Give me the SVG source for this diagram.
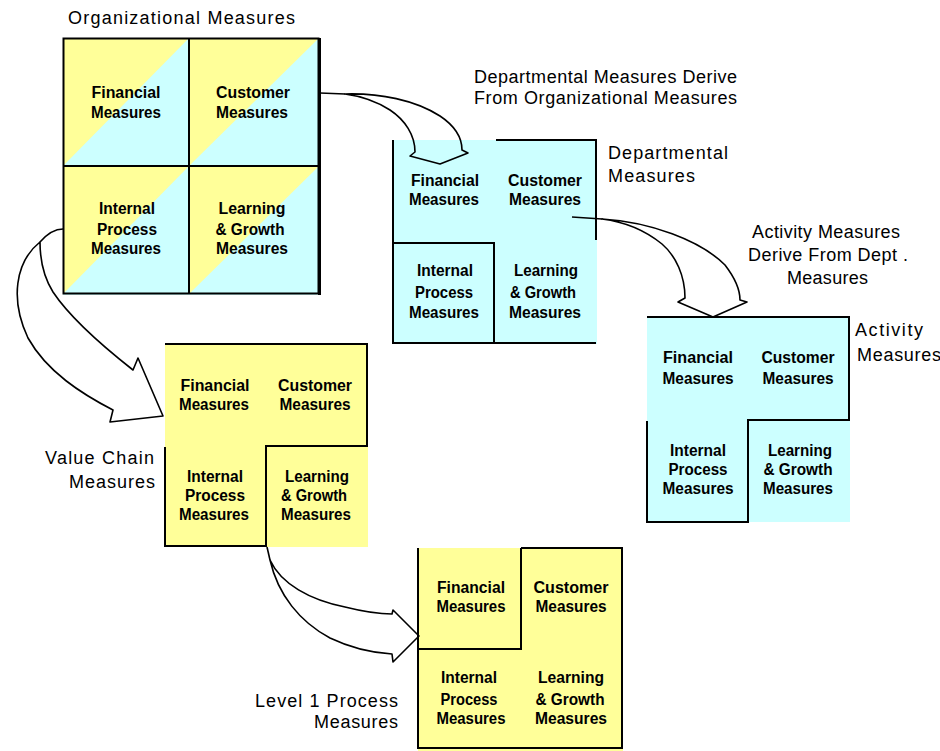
<svg xmlns="http://www.w3.org/2000/svg" width="940" height="751" viewBox="0 0 940 751">
<style>
.lbl{font-family:"Liberation Sans",Arial,sans-serif;font-weight:bold;font-size:16px;fill:#000;text-anchor:middle}
.cap{font-family:"Liberation Sans",Arial,sans-serif;font-size:18px;fill:#000}
.edge{fill:none;stroke:#000;stroke-width:2}
.arr{fill:none;stroke:#000;stroke-width:1.6;stroke-linejoin:round}
.y{fill:#ffff99}
.c{fill:#ccffff}
</style>
<rect width="940" height="751" fill="#fff"/>

<g id="org">
  <text class="cap" x="68" y="24" textLength="227" lengthAdjust="spacing">Organizational Measures</text>
  <rect class="c" x="63" y="38" width="257" height="257"/>
  <polygon class="y" points="63,38 189,38 63,166"/>
  <polygon class="y" points="189,38 319,38 189,166"/>
  <polygon class="y" points="63,166 189,166 63,294"/>
  <polygon class="y" points="189,166 319,166 189,294"/>
  <rect class="edge" x="63.5" y="38.5" width="255" height="255"/>
  <line class="edge" x1="189" y1="38" x2="189" y2="294"/>
  <line class="edge" x1="63" y1="166" x2="319" y2="166"/>
  <line x1="319.5" y1="38" x2="319.5" y2="295" stroke="#000" stroke-width="3"/>
  <text class="lbl" x="126" y="98" textLength="69" lengthAdjust="spacingAndGlyphs">Financial</text>
  <text class="lbl" x="126" y="118" textLength="70" lengthAdjust="spacingAndGlyphs">Measures</text>
  <text class="lbl" x="253" y="98" textLength="74" lengthAdjust="spacingAndGlyphs">Customer</text>
  <text class="lbl" x="252" y="118" textLength="72" lengthAdjust="spacingAndGlyphs">Measures</text>
  <text class="lbl" x="127" y="214" textLength="56" lengthAdjust="spacingAndGlyphs">Internal</text>
  <text class="lbl" x="127" y="235" textLength="60" lengthAdjust="spacingAndGlyphs">Process</text>
  <text class="lbl" x="126" y="254" textLength="70" lengthAdjust="spacingAndGlyphs">Measures</text>
  <text class="lbl" x="252" y="214" textLength="67" lengthAdjust="spacingAndGlyphs">Learning</text>
  <text class="lbl" x="250" y="235" textLength="69" lengthAdjust="spacingAndGlyphs">&amp; Growth</text>
  <text class="lbl" x="252" y="254" textLength="72" lengthAdjust="spacingAndGlyphs">Measures</text>
</g>

<g id="dept">
  <rect class="c" x="393" y="140" width="204" height="204"/>
  <polyline class="edge" points="496,140 596,140 596,240"/>
  <polyline class="edge" points="393,140 393,343 596,343"/>
  <polyline class="edge" points="393,243 494,243 494,343"/>
  <text class="cap" x="608" y="159" textLength="120" lengthAdjust="spacing">Departmental</text>
  <text class="cap" x="608" y="182" textLength="87" lengthAdjust="spacing">Measures</text>
  <text class="lbl" x="445" y="186" textLength="68" lengthAdjust="spacingAndGlyphs">Financial</text>
  <text class="lbl" x="444" y="205" textLength="70" lengthAdjust="spacingAndGlyphs">Measures</text>
  <text class="lbl" x="545" y="186" textLength="74" lengthAdjust="spacingAndGlyphs">Customer</text>
  <text class="lbl" x="545" y="205" textLength="72" lengthAdjust="spacingAndGlyphs">Measures</text>
  <text class="lbl" x="445" y="276" textLength="56" lengthAdjust="spacingAndGlyphs">Internal</text>
  <text class="lbl" x="444" y="298" textLength="58" lengthAdjust="spacingAndGlyphs">Process</text>
  <text class="lbl" x="444" y="318" textLength="70" lengthAdjust="spacingAndGlyphs">Measures</text>
  <text class="lbl" x="546" y="276" textLength="64" lengthAdjust="spacingAndGlyphs">Learning</text>
  <text class="lbl" x="543" y="298" textLength="66" lengthAdjust="spacingAndGlyphs">&amp; Growth</text>
  <text class="lbl" x="545" y="318" textLength="72" lengthAdjust="spacingAndGlyphs">Measures</text>
</g>

<g id="activity">
  <rect class="c" x="647" y="317" width="203" height="205"/>
  <polyline class="edge" points="647,317 849,317 849,420 748,420 748,522 647,522 647,421"/>
  <text class="cap" x="855" y="336" textLength="68" lengthAdjust="spacing">Activity</text>
  <text class="cap" x="857" y="361" textLength="84" lengthAdjust="spacing">Measures</text>
  <text class="lbl" x="698" y="363" textLength="70" lengthAdjust="spacingAndGlyphs">Financial</text>
  <text class="lbl" x="698" y="384" textLength="71" lengthAdjust="spacingAndGlyphs">Measures</text>
  <text class="lbl" x="798" y="363" textLength="73" lengthAdjust="spacingAndGlyphs">Customer</text>
  <text class="lbl" x="798" y="384" textLength="71" lengthAdjust="spacingAndGlyphs">Measures</text>
  <text class="lbl" x="698" y="456" textLength="56" lengthAdjust="spacingAndGlyphs">Internal</text>
  <text class="lbl" x="698" y="475" textLength="59" lengthAdjust="spacingAndGlyphs">Process</text>
  <text class="lbl" x="698" y="494" textLength="71" lengthAdjust="spacingAndGlyphs">Measures</text>
  <text class="lbl" x="800" y="456" textLength="64" lengthAdjust="spacingAndGlyphs">Learning</text>
  <text class="lbl" x="798" y="475" textLength="69" lengthAdjust="spacingAndGlyphs">&amp; Growth</text>
  <text class="lbl" x="798" y="494" textLength="70" lengthAdjust="spacingAndGlyphs">Measures</text>
</g>

<g id="valuechain">
  <rect class="y" x="165" y="344" width="203" height="203"/>
  <polyline class="edge" points="165,344 367,344 367,446 266,446 266,546 165,546 165,447"/>
  <text class="cap" x="45" y="464" textLength="109" lengthAdjust="spacing">Value Chain</text>
  <text class="cap" x="69" y="488" textLength="86" lengthAdjust="spacing">Measures</text>
  <text class="lbl" x="215" y="391" textLength="69" lengthAdjust="spacingAndGlyphs">Financial</text>
  <text class="lbl" x="214" y="410" textLength="70" lengthAdjust="spacingAndGlyphs">Measures</text>
  <text class="lbl" x="315" y="391" textLength="74" lengthAdjust="spacingAndGlyphs">Customer</text>
  <text class="lbl" x="315" y="410" textLength="71" lengthAdjust="spacingAndGlyphs">Measures</text>
  <text class="lbl" x="215" y="482" textLength="56" lengthAdjust="spacingAndGlyphs">Internal</text>
  <text class="lbl" x="215" y="501" textLength="60" lengthAdjust="spacingAndGlyphs">Process</text>
  <text class="lbl" x="214" y="520" textLength="70" lengthAdjust="spacingAndGlyphs">Measures</text>
  <text class="lbl" x="317" y="482" textLength="64" lengthAdjust="spacingAndGlyphs">Learning</text>
  <text class="lbl" x="314" y="501" textLength="66" lengthAdjust="spacingAndGlyphs">&amp; Growth</text>
  <text class="lbl" x="316" y="520" textLength="70" lengthAdjust="spacingAndGlyphs">Measures</text>
</g>

<g id="level1">
  <rect class="y" x="418" y="548" width="205" height="203"/>
  <polyline class="edge" points="521,548 622,548 622,748 418,748 418,548"/>
  <polyline class="edge" points="521,548 521,649 418,649"/>
  <text class="cap" x="255" y="707" textLength="143" lengthAdjust="spacing">Level 1 Process</text>
  <text class="cap" x="314" y="728" textLength="84" lengthAdjust="spacing">Measures</text>
  <text class="lbl" x="471" y="593" textLength="68" lengthAdjust="spacingAndGlyphs">Financial</text>
  <text class="lbl" x="471" y="612" textLength="69" lengthAdjust="spacingAndGlyphs">Measures</text>
  <text class="lbl" x="571" y="593" textLength="75" lengthAdjust="spacingAndGlyphs">Customer</text>
  <text class="lbl" x="571" y="612" textLength="71" lengthAdjust="spacingAndGlyphs">Measures</text>
  <text class="lbl" x="469" y="683" textLength="56" lengthAdjust="spacingAndGlyphs">Internal</text>
  <text class="lbl" x="469" y="705" textLength="57" lengthAdjust="spacingAndGlyphs">Process</text>
  <text class="lbl" x="471" y="724" textLength="69" lengthAdjust="spacingAndGlyphs">Measures</text>
  <text class="lbl" x="571" y="683" textLength="66" lengthAdjust="spacingAndGlyphs">Learning</text>
  <text class="lbl" x="570" y="705" textLength="69" lengthAdjust="spacingAndGlyphs">&amp; Growth</text>
  <text class="lbl" x="571" y="724" textLength="72" lengthAdjust="spacingAndGlyphs">Measures</text>
</g>

<g id="connectors">
  <!-- Organizational -> Departmental -->
  <line class="arr" x1="320" y1="93" x2="345" y2="94"/>
  <path class="arr" d="M345,94 C380,93 415,100 440,116 C455,126 462,138 462,150 L468,153 L440,164 L410,156 L415,152 C415,135 405,120 390,110 C376,101 360,96 345,94 Z"/>
  <text class="cap" x="474" y="83" textLength="263" lengthAdjust="spacing">Departmental Measures Derive</text>
  <text class="cap" x="474" y="104" textLength="263" lengthAdjust="spacing">From Organizational Measures</text>
  <!-- Departmental -> Activity -->
  <line class="arr" x1="572" y1="217" x2="602" y2="219"/>
  <path class="arr" d="M602,219 C650,222 700,240 725,265 C735,278 740,290 740,300 L747,302 L713,317 L678,302 L685,298 C685,276 676,256 662,244 C646,231 626,222 602,219 Z"/>
  <text class="cap" x="752" y="238" textLength="148" lengthAdjust="spacing">Activity Measures</text>
  <text class="cap" x="748" y="261" textLength="160" lengthAdjust="spacing">Derive From Dept .</text>
  <text class="cap" x="787" y="284" textLength="81" lengthAdjust="spacing">Measures</text>
  <!-- Organizational -> Value Chain -->
  <path class="arr" d="M63,229 C55,229 47,234 40,242"/>
  <path class="arr" d="M40,242 C15,262 10,300 28,338 C47,372 82,394 113,410 L110,422 L163,416 L138,358 L133,370 C105,348 71,319 53,292 C43,276 40,258 40,242 Z"/>
  <!-- Value Chain -> Level 1 -->
  <path class="arr" d="M267,547 L270,560"/>
  <path class="arr" d="M270,560 C281,584 310,600 345,607 C365,612 380,614 392,614 L393,610 L419,636 L393,662 L392,654 C375,653 355,650 330,638 C300,622 278,595 270,560 Z"/>
</g>
</svg>
